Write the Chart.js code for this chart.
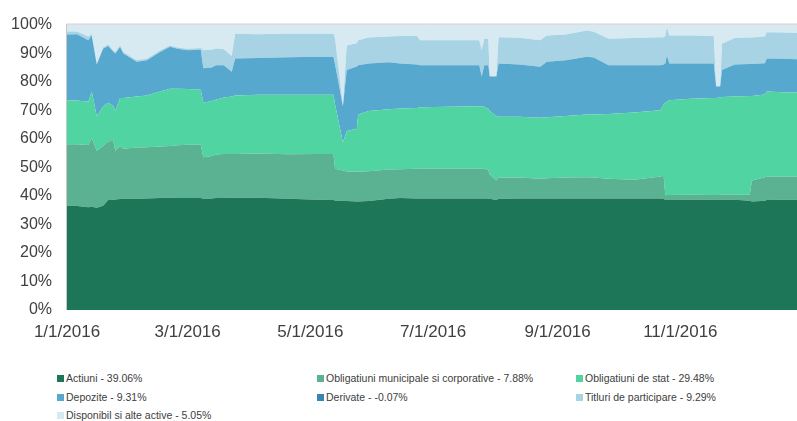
<!DOCTYPE html>
<html><head><meta charset="utf-8">
<script src="https://cdn.jsdelivr.net/npm/chart.js@4"></script>
<style>
html,body{margin:0;padding:0;background:#fff;}
#wrap{position:relative;width:797px;height:421px;overflow:hidden;}
#c{position:absolute;left:0;top:0;}
.leg{position:absolute;font:10.5px "Liberation Sans Narrow","Liberation Sans",Arial,sans-serif;color:#404040;white-space:nowrap;line-height:12px;}
.leg i{display:inline-block;width:7px;height:7px;margin-right:2px;vertical-align:0px;}
</style></head><body>
<div id="wrap"><canvas id="c" width="797" height="345" style="width:797px;height:345px"></canvas><div id="legend"></div></div>
<script>
// day index since 1/1/2016
const days = [0,5,10.6,12.3,14.8,18,20.5,23,24,26.4,28,34.7,39.7,46.3,51.2,55,60,66.5,67.8,72,74,78,81.9,83.6,95,110,125,132.5,133.3,137.2,139.1,144.1,144.8,150,160,165.7,174,175.6,190,205,206.2,207.5,209.5,210.2,213.5,214.6,225,235.3,238.6,248,258.5,262,269.3,282,295,296.7,297.5,298.3,299.5,310,321.6,322.8,324.8,325.7,332,339.5,340.6,347,348,356,363];

const actiuni = [36.5,36.4,36.0,36.2,35.8,36.5,38.5,38.6,38.7,38.9,
  39.0,39.0,39.1,39.2,39.3,39.2,39.2,39.2,39.0,39.1,
  39.2,39.2,39.3,39.3,39.3,39.0,38.6,38.5,38.4,38.2,
  38.2,38.0,38.0,38.2,39.0,39.2,39.1,39.1,39.1,39.1,
  39.1,39.1,39.1,39.0,38.5,39.0,39.1,39.1,39.1,39.1,
  39.1,39.1,39.1,39.1,39.1,39.0,38.5,38.6,38.5,38.6,
  38.6,38.6,38.6,38.6,38.6,38.3,38.0,38.3,38.5,38.6,38.6];

const obligMunicipale = [21.6,21.7,21.8,24.0,20.0,21.0,20.5,20.7,17.1,18.6,
  17.5,17.9,17.9,18.1,18.2,18.5,18.7,18.7,14.5,14.9,
  15.3,15.5,15.4,15.4,15.5,15.6,16.1,16.2,11.1,10.7,
  10.3,10.4,10.4,10.4,10.2,10.1,10.4,10.4,10.5,10.5,
  10.5,10.5,9.9,8.5,6.9,7.4,7.3,6.9,7.1,7.3,
  7.4,7.3,6.9,6.5,7.7,8.0,1.7,1.7,1.8,1.8,
  1.7,1.7,1.7,1.8,1.8,2.1,7.4,8.2,8.2,8.2,8.2];

const obligStat = [15.3,15.3,15.2,16.4,12.1,13.9,13.6,12.2,13.9,16.8,
  17.8,17.9,18.2,19.3,20.0,19.8,19.5,19.3,19.1,19.2,
  19.2,19.8,20.1,20.5,20.6,20.8,20.7,20.7,22.5,9.8,
  14.2,15.1,20.1,21.1,21.1,21.3,21.3,21.5,21.6,21.8,
  21.8,21.6,21.5,22.2,22.6,21.3,21.3,21.4,21.3,21.6,
  22.0,22.1,22.7,23.6,23.2,25.0,32.4,32.7,33.2,33.6,
  34.0,34.0,34.2,34.2,34.4,34.6,29.6,29.0,29.9,29.5,29.4];

const depozite = [23.1,23.2,21.5,19.6,18.1,20.2,19.9,19.0,20.2,17.9,
  15.6,12.2,12.3,13.8,14.7,14.0,13.6,14.0,12.1,11.8,
  12.1,11.3,8.7,12.9,12.9,13.2,13.3,13.3,14.0,12.7,
  21.4,21.8,17.3,16.7,16.5,15.8,15.2,14.8,14.6,14.4,
  10.4,14.6,15.3,12.1,13.8,18.7,18.3,17.8,19.5,19.5,
  20.2,20.0,17.1,16.6,15.8,14.0,13.8,16.3,12.9,12.4,
  12.1,4.0,3.8,9.5,11.2,11.2,11.2,11.0,11.5,11.7,11.7];

const derivate = [0,0,0,0,0,0,0,0,0,0,
  0,0,0,0,0,0,0,0,0,0,
  0,0,0,0,0,0,0,0,0,0,
  0,0,0,0,0,0,0,0,0,0,
  0,0,0,0,0,0,0,0,0,0,
  0,0,0,0,0,0,0,0,0,0,
  0,0,0,0,0,0,0,0,0,0,0];

const titluri = [1.1,1.0,1.3,0.4,0.5,0.5,0.5,0.5,0.5,0.5,
  0.5,0.5,0.5,0.5,0.5,0.5,0.5,0.6,6.3,6.2,
  5.8,5.6,5.5,8.7,8.3,8.2,8.1,8.1,9.0,0.2,
  8.6,8.2,8.7,9.1,9.0,9.6,10.0,8.7,8.7,8.7,
  9.2,9.2,9.2,0.2,0.2,9.2,9.4,9.3,9.2,9.0,
  9.2,9.0,9.2,9.5,9.8,9.6,9.6,9.8,9.8,9.8,
  9.6,0.2,0.2,9.2,9.3,9.3,9.3,9.3,9.2,9.2,9.2];

const disponibil = [2.4,2.4,4.2,3.4,13.5,7.9,7.0,9.0,9.6,7.3,
  9.6,12.5,12.0,9.1,7.3,8.0,8.5,8.2,9.0,8.8,
  8.4,8.6,11.0,3.2,3.4,3.2,3.2,3.2,5.0,28.4,
  7.3,6.5,5.5,4.5,4.2,4.0,4.0,5.5,5.5,5.5,
  9.0,5.0,5.0,18.0,18.0,4.4,4.6,5.5,3.8,3.5,
  2.1,2.5,5.0,4.7,4.4,4.4,4.0,0.9,3.8,3.8,
  4.0,21.5,21.5,6.7,4.7,4.5,4.5,4.2,2.7,2.8,2.9];

const seriesNames = ['Actiuni','Obligatiuni municipale si corporative','Obligatiuni de stat','Depozite','Derivate','Titluri de participare','Disponibil si alte active'];
const legendPct = ['39.06%','7.88%','29.48%','9.31%','-0.07%','9.29%','5.05%'];
const xTickDays = [0,60,121,182,244,305];
const xTickLabels = ['1/1/2016','3/1/2016','5/1/2016','7/1/2016','9/1/2016','11/1/2016'];

const seriesData = [actiuni, obligMunicipale, obligStat, depozite, derivate, titluri, disponibil];
const colors = ['#1e7658','#5bb292','#50d4a1','#57a8cf','#3a86b0','#a7d3e5','#d7eaf2'];

const datasets = seriesData.map((arr, k) => ({
  label: seriesNames[k],
  data: days.map((d, i) => ({x: d, y: arr[i]})),
  backgroundColor: colors[k],
  borderColor: colors[k],
  borderWidth: 0,
  pointRadius: 0,
  tension: 0,
  fill: k === 0 ? 'origin' : '-1'
}));

const frame = {
  id: 'frame',
  afterDatasetsDraw(chart) {
    const a = chart.chartArea, ctx = chart.ctx;
    ctx.save();
    ctx.strokeStyle = '#c8c8c8';
    ctx.lineWidth = 1;
    ctx.beginPath();
    ctx.moveTo(a.left - 0.5, a.bottom);
    ctx.lineTo(a.left - 0.5, a.top - 0.5);
    ctx.lineTo(a.right, a.top - 0.5);
    ctx.stroke();
    ctx.restore();
  }
};

new Chart(document.getElementById('c'), {
  type: 'line',
  data: { datasets },
  plugins: [frame],
  options: {
    responsive: false,
    animation: false,
    devicePixelRatio: 1,
    layout: { padding: { top: 16, right: 0, bottom: 0, left: 0 } },
    plugins: { legend: { display: false }, tooltip: { enabled: false } },
    elements: { line: { borderWidth: 0 } },
    scales: {
      x: {
        type: 'linear', min: 0, max: 363,
        grid: { display: false, drawTicks: false },
        border: { display: false },
        afterBuildTicks: s => { s.ticks = xTickDays.map(v => ({value: v})); },
        afterFit: s => { s.height = 35; },
        ticks: {
          padding: 12, color: '#404040', maxRotation: 0, autoSkip: false,
          font: { family: '"Liberation Sans", Arial, sans-serif', size: 17 },
          callback: v => xTickLabels[xTickDays.indexOf(v)]
        }
      },
      y: {
        stacked: true, min: 0, max: 100,
        grid: { display: false, drawTicks: false },
        border: { display: false },
        afterFit: s => { s.width = 67; },
        ticks: {
          stepSize: 10, padding: 15, color: '#404040',
          font: { family: '"Liberation Sans", Arial, sans-serif', size: 16 },
          callback: v => v + '%'
        }
      }
    }
  }
});

const legCols = [57, 317, 576];
const legRows = [372, 391, 409];
const legendEl = document.getElementById('legend');
seriesNames.forEach((name, k) => {
  const d = document.createElement('div');
  d.className = 'leg';
  d.style.left = legCols[k % 3] + 'px';
  d.style.top = legRows[Math.floor(k / 3)] + 'px';
  d.innerHTML = '<i style="background:' + colors[k] + '"></i>' + name + ' - ' + legendPct[k];
  legendEl.appendChild(d);
});
</script>
</body></html>
